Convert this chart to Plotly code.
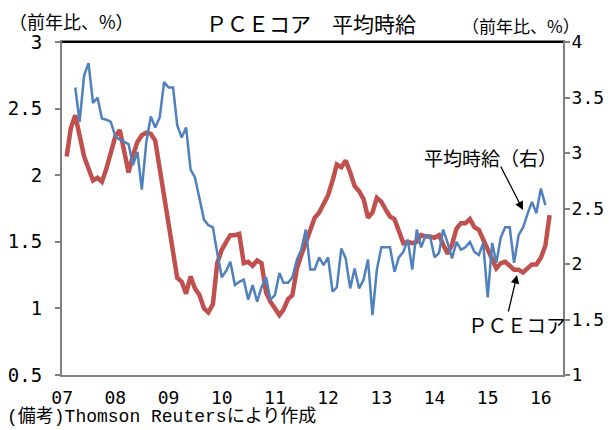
import plotly.graph_objects as go
import pandas as pd

# PCE core, y/y % (left axis), monthly from 2007-02
pce_start = "2007-02-01"
pce_core = [2.14, 2.35, 2.45, 2.30, 2.14, 2.05, 1.96, 1.98, 1.95, 2.05,
            2.18, 2.29, 2.34, 2.18, 2.02, 2.15, 2.25, 2.30, 2.32, 2.31,
            2.26, 2.05, 1.85, 1.66, 1.42, 1.23, 1.20, 1.11, 1.24, 1.15,
            1.10, 1.00, 0.97, 1.03, 1.34, 1.44, 1.50, 1.55, 1.55, 1.56,
            1.34, 1.35, 1.32, 1.36, 1.34, 1.12, 1.05, 1.00, 0.95, 0.99,
            1.07, 1.10, 1.30, 1.40, 1.49, 1.60, 1.68, 1.72, 1.78, 1.85,
            1.96, 2.08, 2.06, 2.11, 2.02, 1.92, 1.88, 1.82, 1.68, 1.72,
            1.83, 1.80, 1.74, 1.69, 1.67, 1.58, 1.49, 1.50, 1.49, 1.50,
            1.55, 1.54, 1.54, 1.53, 1.55, 1.48, 1.41, 1.48, 1.60, 1.64,
            1.64, 1.67, 1.61, 1.59, 1.52, 1.44, 1.38, 1.30, 1.34, 1.35,
            1.32, 1.29, 1.29, 1.27, 1.30, 1.33, 1.33, 1.38, 1.47, 1.70]

# Average hourly earnings, y/y % (right axis), monthly from 2007-04
ahe_start = "2007-04-01"
avg_hourly = [3.59, 3.28, 3.70, 3.81, 3.45, 3.50, 3.31, 3.30, 3.28, 3.15,
              3.12, 3.10, 3.08, 2.89, 3.01, 2.67, 3.10, 3.33, 3.23, 3.32,
              3.64, 3.59, 3.59, 3.25, 3.14, 3.23, 2.85, 2.78, 2.60, 2.40,
              2.35, 2.33, 2.10, 1.88, 1.94, 2.02, 1.81, 1.84, 1.86, 1.68,
              1.81, 1.66, 1.79, 1.88, 1.68, 1.72, 1.92, 1.83, 1.83, 1.88,
              2.04, 2.13, 2.31, 1.95, 1.95, 2.06, 1.99, 2.06, 1.75, 1.79,
              2.14, 2.05, 1.78, 1.96, 1.78, 1.86, 2.04, 1.54, 1.95, 2.15,
              2.15, 2.15, 1.93, 2.06, 2.11, 2.22, 1.95, 2.31, 2.15, 2.26,
              2.25, 2.06, 2.10, 2.31, 2.19, 2.05, 2.20, 2.13, 2.15, 2.20,
              2.11, 2.08, 2.19, 1.70, 2.19, 2.01, 2.24, 2.33, 2.33, 2.01,
              2.26, 2.33, 2.45, 2.56, 2.46, 2.68, 2.53]

years = list(range(2007, 2017))
year_labels = ["07", "08", "09", "10", "11", "12", "13", "14", "15", "16"]
left_ticks = [0.5, 1, 1.5, 2, 2.5, 3]
left_labels = ["0.5", "1", "1.5", "2", "2.5", "3"]
right_ticks = [1, 1.5, 2, 2.5, 3, 3.5, 4]
right_labels = ["1", "1.5", "2", "2.5", "3", "3.5", "4"]

pce_dates = pd.date_range(pce_start, periods=len(pce_core), freq="MS")
ahe_dates = pd.date_range(ahe_start, periods=len(avg_hourly), freq="MS")

RED = "#C0504D"
BLUE = "#4F81BD"
GREY = "#808080"
JP = "Noto Sans CJK JP"
NUM = "DejaVu Sans Mono, Noto Sans CJK JP"
FOOT = "Liberation Mono, Noto Sans CJK JP"

fig = go.Figure()
fig.add_trace(go.Scatter(x=ahe_dates, y=avg_hourly, mode="lines", yaxis="y2",
                         line=dict(color=BLUE, width=2.5), name="平均時給"))
fig.add_trace(go.Scatter(x=pce_dates, y=pce_core, mode="lines", yaxis="y",
                         line=dict(color=RED, width=4.5), name="PCEコア"))

# page body has an 8px margin, so the figure is 8px smaller and offset
fig.update_layout(
    width=605, height=422,
    margin=dict(l=54, r=50, t=34, b=55, autoexpand=False),
    paper_bgcolor="white", plot_bgcolor="white",
    showlegend=False,
    xaxis=dict(range=["2006-12-31", "2016-06-01"], tickvals=[f"{y}-01-01" for y in years],
               ticktext=year_labels, showgrid=False, zeroline=False, automargin=False,
               showline=True, linecolor=GREY, linewidth=2, mirror=True, ticks="",
               ticklabelstandoff=5,
               tickfont=dict(family=NUM, size=18, color="black")),
    yaxis=dict(range=[0.5, 3], tickvals=left_ticks, ticktext=left_labels,
               showgrid=False, zeroline=False, automargin=False,
               showline=True, linecolor=GREY, linewidth=2,
               ticks="outside", ticklen=5, tickcolor=GREY, tickwidth=1.5,
               ticklabelstandoff=9,
               tickfont=dict(family=NUM, size=19, color="black")),
    yaxis2=dict(range=[1, 4], tickvals=right_ticks, ticktext=right_labels,
                overlaying="y", side="right", showgrid=False, zeroline=False,
                automargin=False,
                showline=True, linecolor=GREY, linewidth=2,
                ticks="outside", ticklen=5, tickcolor=GREY, tickwidth=1.5,
                ticklabelstandoff=-2,
                tickfont=dict(family=NUM, size=18, color="black")),
)

fig.add_shape(type="line", xref="paper", yref="paper", x0=0, x1=1, y0=1, y1=1,
              line=dict(color="black", width=2))

# positions below given in reference-image pixels
def px(xr):
    return (xr - 62) / 501

def py(yr):
    return 1 - (yr - 42) / 333

ann = [
    dict(text="ＰＣＥコア　平均時給", x=311, y=23, size=21, anchor="center", fam=JP),
    dict(text="（前年比、%）", x=7, y=21, size=18, anchor="left", fam=JP),
    dict(text="（前年比、%）", x=460, y=26, size=17, anchor="left", fam=JP),
    dict(text="(備考)Thomson Reutersにより作成", x=5, y=416, size=18, anchor="left", fam=FOOT),
]
for a in ann:
    fig.add_annotation(text=a["text"], xref="paper", yref="paper",
                       x=px(a["x"]), y=py(a["y"]),
                       xanchor=a["anchor"], yanchor="middle", showarrow=False,
                       font=dict(family=a["fam"], size=a["size"], color="black"))

fig.add_annotation(text="平均時給（右）", xref="paper", yref="paper",
                   x=px(490), y=py(157), showarrow=False,
                   xanchor="center", yanchor="middle",
                   font=dict(family=JP, size=19, color="black"))
fig.add_annotation(text="ＰＣＥコア", xref="paper", yref="paper",
                   x=px(517), y=py(324), showarrow=False,
                   xanchor="center", yanchor="middle",
                   font=dict(family=JP, size=19.5, color="black"))
fig.add_annotation(text="", xref="paper", yref="paper",
                   x=px(523), y=py(210), ax=-23, ay=-45,
                   showarrow=True, arrowhead=2, arrowsize=1.3, arrowwidth=1.3, arrowcolor="black")
fig.add_annotation(text="", xref="paper", yref="paper",
                   x=px(517), y=py(275), ax=-9, ay=38,
                   showarrow=True, arrowhead=2, arrowsize=1.3, arrowwidth=1.3, arrowcolor="black")

fig.write_html("out.html")
